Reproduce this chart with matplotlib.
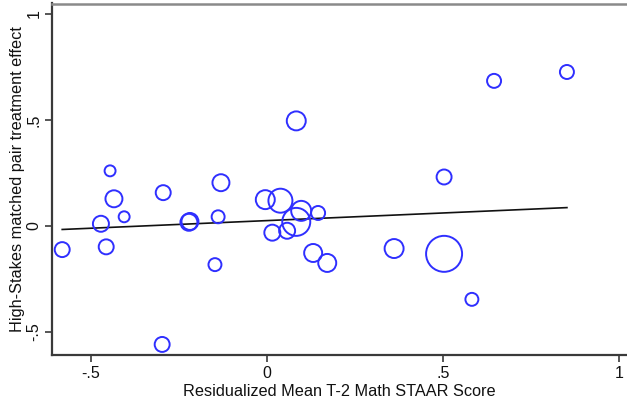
import numpy as np
import matplotlib
matplotlib.use("Agg")
import matplotlib.pyplot as plt

plt.rcParams['font.family'] = ['Liberation Sans', 'DejaVu Sans']

# Residualized mean T-2 math score for each matched pair
score = [-0.582, -0.472, -0.457, -0.446, -0.435, -0.406, -0.295, -0.298,
         -0.222, -0.219, -0.131, -0.139, -0.148, -0.005, 0.038, 0.015,
         0.057, 0.097, 0.083, 0.145, 0.131, 0.171, 0.083, 0.361,
         0.503, 0.503, 0.582, 0.645, 0.852]
# High-stakes matched pair treatment effect
effect = [-0.113, 0.009, -0.100, 0.259, 0.127, 0.042, 0.156, -0.561,
          0.016, 0.020, 0.203, 0.042, -0.184, 0.123, 0.118, -0.033,
          -0.024, 0.070, 0.018, 0.060, -0.129, -0.176, 0.495, -0.108,
          -0.133, 0.230, -0.348, 0.684, 0.726]
# Relative pair weights (marker area)
weight = [56, 64, 56, 30, 72, 30, 56, 56,
          72, 72, 72, 42, 42, 90, 144, 64,
          64, 100, 196, 49, 81, 81, 90, 90,
          324, 56, 42, 49, 49]

# Linear fit (intercept, slope)
fit_intercept = 0.024
fit_slope = 0.072

x_ticks = [-0.5, 0, 0.5, 1]
x_tick_labels = ['-.5', '0', '.5', '1']
y_ticks = [-0.5, 0, 0.5, 1]
y_tick_labels = ['-.5', '0', '.5', '1']

fig = plt.figure(figsize=(6.27, 4.08), dpi=100)
ax = fig.add_axes([52 / 627, 53.5 / 408, 1 - 52 / 627, (408 - 3.5 - 53.5) / 408])

# marker area in points^2 from pixel radius^2
px2pt = 0.72
sizes = [(2 * np.sqrt(w) * px2pt) ** 2 for w in weight]
ax.scatter(score, effect, s=sizes, facecolors='none', edgecolors='#2f2fff',
           linewidths=1.4, zorder=3)

xs = np.sort(np.array(score))
ax.plot(xs, fit_intercept + fit_slope * xs, color='#111111', lw=1.2, zorder=2)

ax.set_xlim(-0.611, 1.0227)
ax.set_ylim(-0.6085, 1.0495)
ax.set_xticks(x_ticks)
ax.set_xticklabels(x_tick_labels)
ax.set_yticks(y_ticks)
ax.set_yticklabels(y_tick_labels, rotation=90, va='center')

for side in ['left', 'bottom']:
    ax.spines[side].set_color('#3a3a3a')
    ax.spines[side].set_linewidth(1.6)
ax.spines['top'].set_color('#8a8a8a')
ax.spines['top'].set_linewidth(1.8)
ax.spines['right'].set_visible(False)

ax.tick_params(axis='both', direction='out', length=5, width=1.2,
               color='#3a3a3a', labelsize=11.5, labelcolor='#111111')
ax.tick_params(axis='x', pad=3.5)
ax.tick_params(axis='y', pad=2.5)

ax.set_xlabel('Residualized Mean T-2 Math STAAR Score', fontsize=11.7,
              color='#111111', labelpad=2)
ax.set_ylabel('High-Stakes matched pair treatment effect', fontsize=11.7,
              color='#111111', labelpad=1)

fig.savefig('out.png', dpi=100)
